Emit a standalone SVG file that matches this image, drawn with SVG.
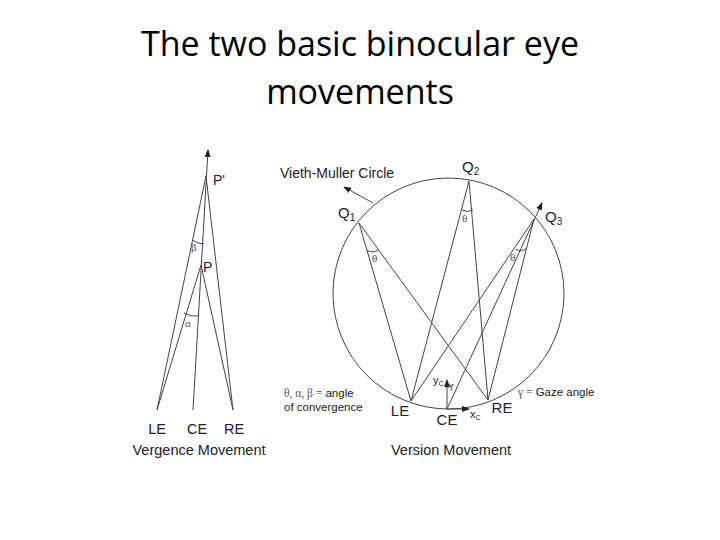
<svg xmlns="http://www.w3.org/2000/svg" width="720" height="540" viewBox="0 0 720 540">
<style>
.t{font-family:"Open Sans","Liberation Sans",sans-serif;font-size:34px;fill:#000;text-anchor:middle}
.l{font-family:"Liberation Sans",Arial,sans-serif;fill:#222}
.ln{stroke:#444;stroke-width:1;fill:none}
.g{font-family:"Liberation Serif",serif;fill:#555;font-size:11px}
</style>
<defs><marker id="a" markerWidth="8" markerHeight="8" refX="7" refY="4" orient="auto" markerUnits="userSpaceOnUse"><path d="M0,1 L8,4 L0,7 z" fill="#222"/></marker></defs>
<rect width="720" height="540" fill="#fff"/>
<g id="title"><text class="t" x="360" y="56">The two basic binocular eye</text><text class="t" x="360" y="104">movements</text></g>
<g id="connectors">
<line class="ln" x1="193" y1="410" x2="208" y2="150" marker-end="url(#a)"/>
<line class="ln" x1="157" y1="410" x2="206" y2="176"/>
<line class="ln" x1="233" y1="410" x2="206" y2="176"/>
<line class="ln" x1="157" y1="410" x2="201" y2="265"/>
<line class="ln" x1="233" y1="410" x2="201" y2="265"/>
<path class="ln" d="M192,240 Q198,244 204,244"/>
<path class="ln" d="M184,313 Q190,317 198,316"/>
<circle class="ln" cx="448.5" cy="293.5" r="115.5"/>
<line class="ln" x1="373" y1="203" x2="344" y2="187" marker-end="url(#a)"/>
<line class="ln" x1="359" y1="223" x2="411" y2="401"/>
<line class="ln" x1="359" y1="223" x2="488" y2="400"/>
<line class="ln" x1="469" y1="181" x2="411" y2="401"/>
<line class="ln" x1="469" y1="181" x2="488" y2="400"/>
<line class="ln" x1="534" y1="219" x2="411" y2="401"/>
<line class="ln" x1="534" y1="219" x2="488" y2="400"/>
<line class="ln" x1="447" y1="409" x2="542" y2="203" marker-end="url(#a)"/>
<line class="ln" x1="447" y1="409" x2="447" y2="380" marker-end="url(#a)"/>
<line class="ln" x1="447" y1="409" x2="469" y2="409" marker-end="url(#a)"/>
<path class="ln" d="M367,250 Q372,254 378,250"/>
<path class="ln" d="M462,210 Q467,213 473,210"/>
<path class="ln" d="M516,249 Q521,253 527,248"/>
<path class="ln" d="M447,387 Q451,388 453,384"/>
</g>
<g id="labels" class="l">
<text x="213" y="185" font-size="14">P'</text>
<text x="203" y="272" font-size="14">P</text>
<text class="g" x="191" y="251">β</text>
<text class="g" x="185" y="327">α</text>
<text x="157" y="434" font-size="14.5" text-anchor="middle">LE</text>
<text x="197" y="434" font-size="14.5" text-anchor="middle">CE</text>
<text x="234" y="434" font-size="14.5" text-anchor="middle">RE</text>
<text x="199" y="455" font-size="14.5" text-anchor="middle">Vergence Movement</text>
<text x="280" y="178" font-size="14">Vieth-Muller Circle</text>
<text x="462" y="172" font-size="15">Q<tspan font-size="10" dy="3">2</tspan></text>
<text x="338" y="218" font-size="15">Q<tspan font-size="10" dy="3">1</tspan></text>
<text x="545" y="222" font-size="15">Q<tspan font-size="10" dy="3">3</tspan></text>
<text class="g" x="372" y="262">θ</text>
<text class="g" x="462" y="222">θ</text>
<text class="g" x="510" y="261">θ</text>
<text x="284" y="397" font-size="11.5"><tspan font-family="Liberation Serif" fill="#555">θ, α, β =</tspan> angle</text>
<text x="284" y="411" font-size="11.5">of convergence</text>
<text x="518" y="396" font-size="11.5"><tspan font-family="Liberation Serif" fill="#555">γ =</tspan> Gaze angle</text>
<text x="400" y="416" font-size="15" text-anchor="middle">LE</text>
<text x="447" y="425" font-size="15" text-anchor="middle">CE</text>
<text x="502" y="413" font-size="15" text-anchor="middle">RE</text>
<text x="433" y="384" font-size="11">y<tspan font-size="7" dy="2">C</tspan></text>
<text class="g" x="449" y="389" font-size="8">γ</text>
<text x="470" y="418" font-size="11">x<tspan font-size="7" dy="2">C</tspan></text>
<text x="451" y="455" font-size="14.5" text-anchor="middle">Version Movement</text>
</g>
</svg>
